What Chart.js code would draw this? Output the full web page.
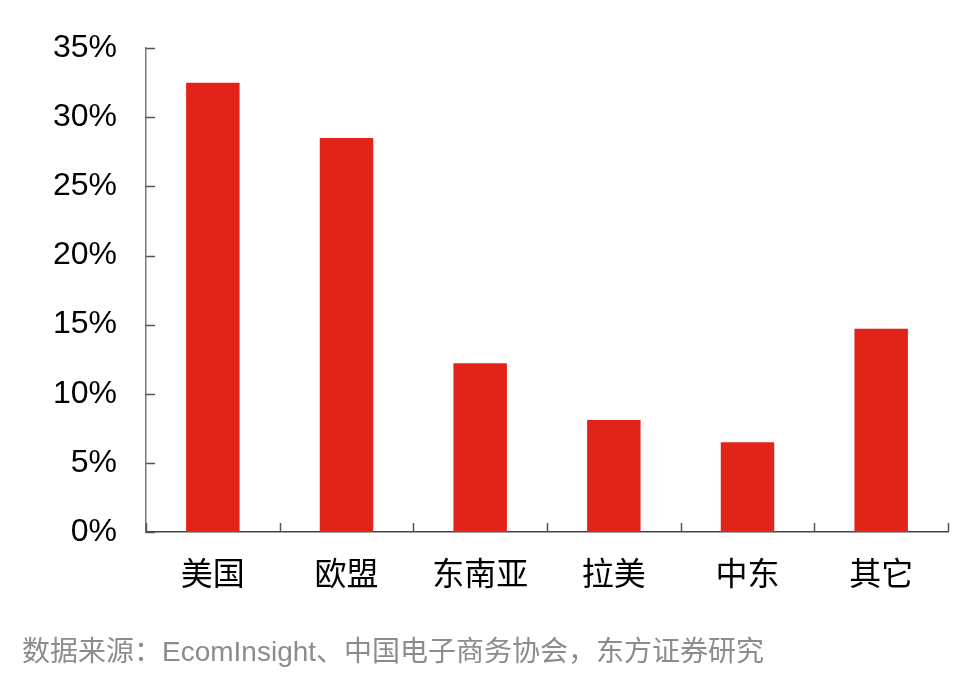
<!DOCTYPE html>
<html>
<head>
<meta charset="utf-8">
<script src="https://cdn.jsdelivr.net/npm/chart.js@4"></script>
<style>
  html, body { margin:0; padding:0; background:#fff; }
  #wrap { position:relative; width:963px; height:676px; }
  #note { position:absolute; left:22px; top:632px; font:28px "Liberation Sans","Noto Sans CJK SC",sans-serif; line-height:40px; color:#8c8c8c; white-space:nowrap; }
</style>
</head>
<body>
<div id="wrap">
  <canvas id="c" width="963" height="676"></canvas>
  <div id="note">数据来源：EcomInsight、中国电子商务协会，东方证券研究</div>
</div>
<script>
const regions = ['美国', '欧盟', '东南亚', '拉美', '中东', '其它'];
const shares = [32.5, 28.5, 12.2, 8.1, 6.5, 14.7];

const FONT = '"Liberation Sans","Noto Sans CJK SC",sans-serif';

// ticks drawn inward (right on y, up on x)
const innerTicks = {
    id: 'innerTicks',
    afterDraw(chart) {
        const ctx = chart.ctx;
        const a = chart.chartArea;
        const y = chart.scales.y;
        ctx.save();
        ctx.strokeStyle = '#555';
        ctx.lineWidth = 1.5;
        ctx.beginPath();
        y.ticks.forEach(t => {
            const py = Math.round(y.getPixelForValue(t.value)) + 0.5;
            ctx.moveTo(a.left, py);
            ctx.lineTo(a.left + 9, py);
        });
        const n = regions.length;
        for (let i = 0; i <= n; i++) {
            const px = Math.round(a.left + i * (a.right - a.left) / n) + 0.5;
            ctx.moveTo(px, a.bottom);
            ctx.lineTo(px, a.bottom - 9);
        }
        ctx.stroke();
        ctx.restore();
    }
};

new Chart(document.getElementById('c'), {
    type: 'bar',
    data: {
        labels: regions,
        datasets: [{ data: shares, backgroundColor: '#e2231a', barPercentage: 0.4, categoryPercentage: 1 }]
    },
    options: {
        responsive: false,
        animation: false,
        layout: { padding: { left: 0, top: 46, right: 15, bottom: 84 } },
        plugins: { legend: { display: false }, tooltip: { enabled: false } },
        scales: {
            x: {
                grid: { display: false, drawTicks: false },
                border: { display: true, color: '#444', width: 1.5 },
                ticks: { color: '#000', padding: 25, font: { family: FONT, size: 32 } },
                afterFit(s) { s.height = 60; }
            },
            y: {
                min: 0, max: 35,
                grid: { display: false, drawTicks: false },
                border: { display: true, color: '#777', width: 1.5 },
                ticks: { stepSize: 5, color: '#000', padding: 29, font: { family: FONT, size: 32 },
                         callback: v => v + '%' },
                afterFit(s) { s.width = 146; }
            }
        }
    },
    plugins: [innerTicks]
});
</script>
</body>
</html>
